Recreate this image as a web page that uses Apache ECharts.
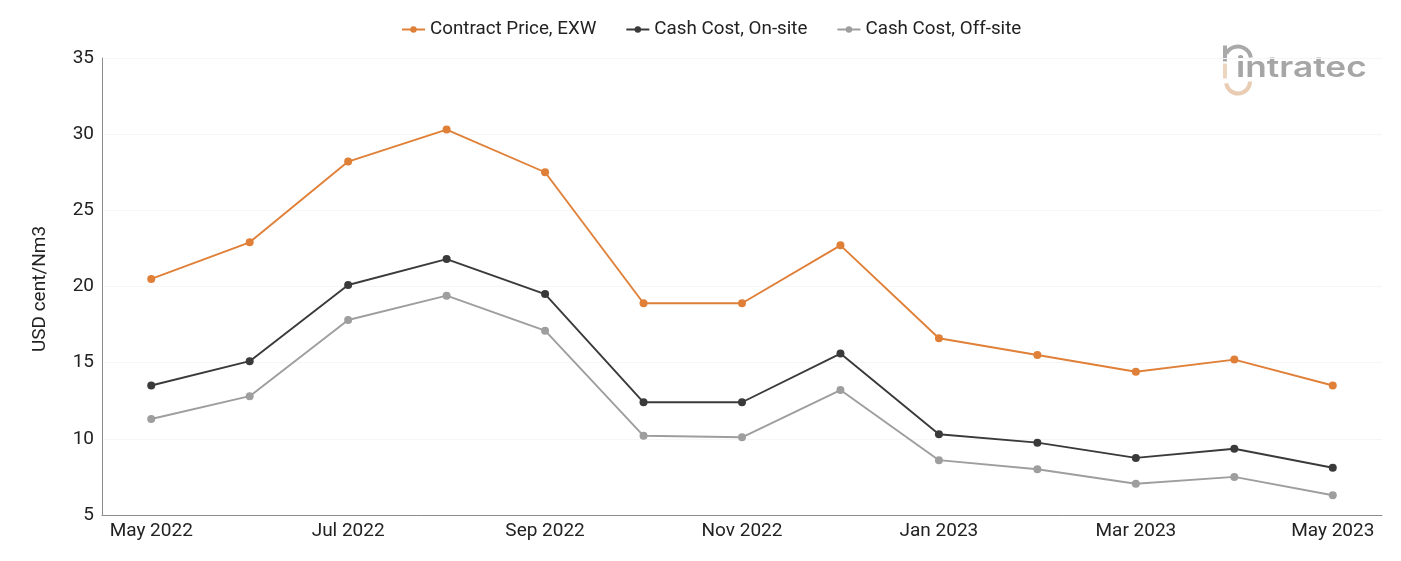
<!DOCTYPE html>
<html>
<head>
<meta charset="utf-8">
<style>html,body{margin:0;padding:0;background:#fff}#chart{width:1401px;height:561px}</style>
<script src="https://cdn.jsdelivr.net/npm/echarts@6/dist/echarts.min.js"></script>
</head>
<body>
<div id="chart"></div>
<script>
const months = ['May 2022','Jun 2022','Jul 2022','Aug 2022','Sep 2022','Oct 2022','Nov 2022','Dec 2022','Jan 2023','Feb 2023','Mar 2023','Apr 2023','May 2023'];
const contractPrice = [20.5,22.9,28.2,30.3,27.5,18.9,18.9,22.7,16.6,15.5,14.4,15.2,13.5];
const cashOnSite = [13.5,15.1,20.1,21.8,19.5,12.4,12.4,15.6,10.3,9.75,8.75,9.35,8.1];
const cashOffSite = [11.3,12.8,17.8,19.4,17.1,10.2,10.1,13.2,8.6,8.0,7.05,7.5,6.3];

const FONT = 'Roboto';
const TEXT = '#222222';

function lineSeries(name, data, color) {
  return {
    name, data, type: 'line', smooth: false,
    symbol: 'circle', symbolSize: 8,
    itemStyle: { color },
    lineStyle: { color, width: 1.9 }
  };
}

const chart = echarts.init(document.getElementById('chart'), null, { renderer: 'canvas' });
chart.setOption({
  animation: false,
  backgroundColor: '#ffffff',
  textStyle: { fontFamily: FONT },
  grid: { left: 102, right: 19, top: 58, bottom: 46 },
  legend: {
    top: 15, left: 396, itemGap: 29, itemWidth: 23, itemHeight: 8,
    textStyle: { fontFamily: FONT, fontSize: 18.8, color: TEXT }
  },
  xAxis: {
    type: 'category', data: months, boundaryGap: true,
    axisTick: { show: false },
    axisLine: { lineStyle: { color: '#8c8c8c', width: 1 } },
    axisLabel: { interval: 1, fontFamily: FONT, fontSize: 19, color: TEXT, margin: 7, hideOverlap: false }
  },
  yAxis: {
    type: 'value', min: 5, max: 35, interval: 5,
    name: 'USD cent/Nm3', nameLocation: 'middle', nameGap: 52,
    nameTextStyle: { fontFamily: FONT, fontSize: 19, color: TEXT, padding: [0, 5, 0, 0] },
    axisTick: { show: false },
    axisLine: { show: true, lineStyle: { color: '#8c8c8c', width: 1 } },
    axisLabel: { fontFamily: FONT, fontSize: 19, color: TEXT, margin: 8, padding: [3, 0, 0, 0] },
    splitLine: { lineStyle: { color: '#f6f6f6', width: 1 } }
  },
  series: [
    lineSeries('Contract Price, EXW', contractPrice, '#e08038'),
    lineSeries('Cash Cost, On-site', cashOnSite, '#3a3a3a'),
    lineSeries('Cash Cost, Off-site', cashOffSite, '#9e9e9e')
  ],
  graphic: [{
    type: 'group', left: 1223, top: 44, silent: true,
    children: [
      // grey upper hook and warm lower hook of the brand mark
      { type: 'arc', shape: { cx: 15, cy: 15, r: 13, startAngle: Math.PI * 1.15, endAngle: Math.PI * 1.95 },
        style: { stroke: '#a9a9a9', lineWidth: 4, fill: 'none' } },
      { type: 'rect', shape: { x: 0, y: 1, width: 4, height: 16 }, style: { fill: '#a9a9a9' } },
      { type: 'rect', shape: { x: 0, y: 19, width: 4, height: 15 }, style: { fill: '#ecd6c0' } },
      { type: 'arc', shape: { cx: 15, cy: 37, r: 12, startAngle: 0, endAngle: Math.PI * 0.95 },
        style: { stroke: '#e8cdb4', lineWidth: 4, fill: 'none' } },
      { type: 'text', x: 13, y: 10, scaleX: 1.26, style: { x: 0, y: 0, text: 'intratec', fill: '#a6a6a6',
        font: '600 28px Inter', letterSpacing: 3 } }
    ]
  }]
});
</script>
</body>
</html>
